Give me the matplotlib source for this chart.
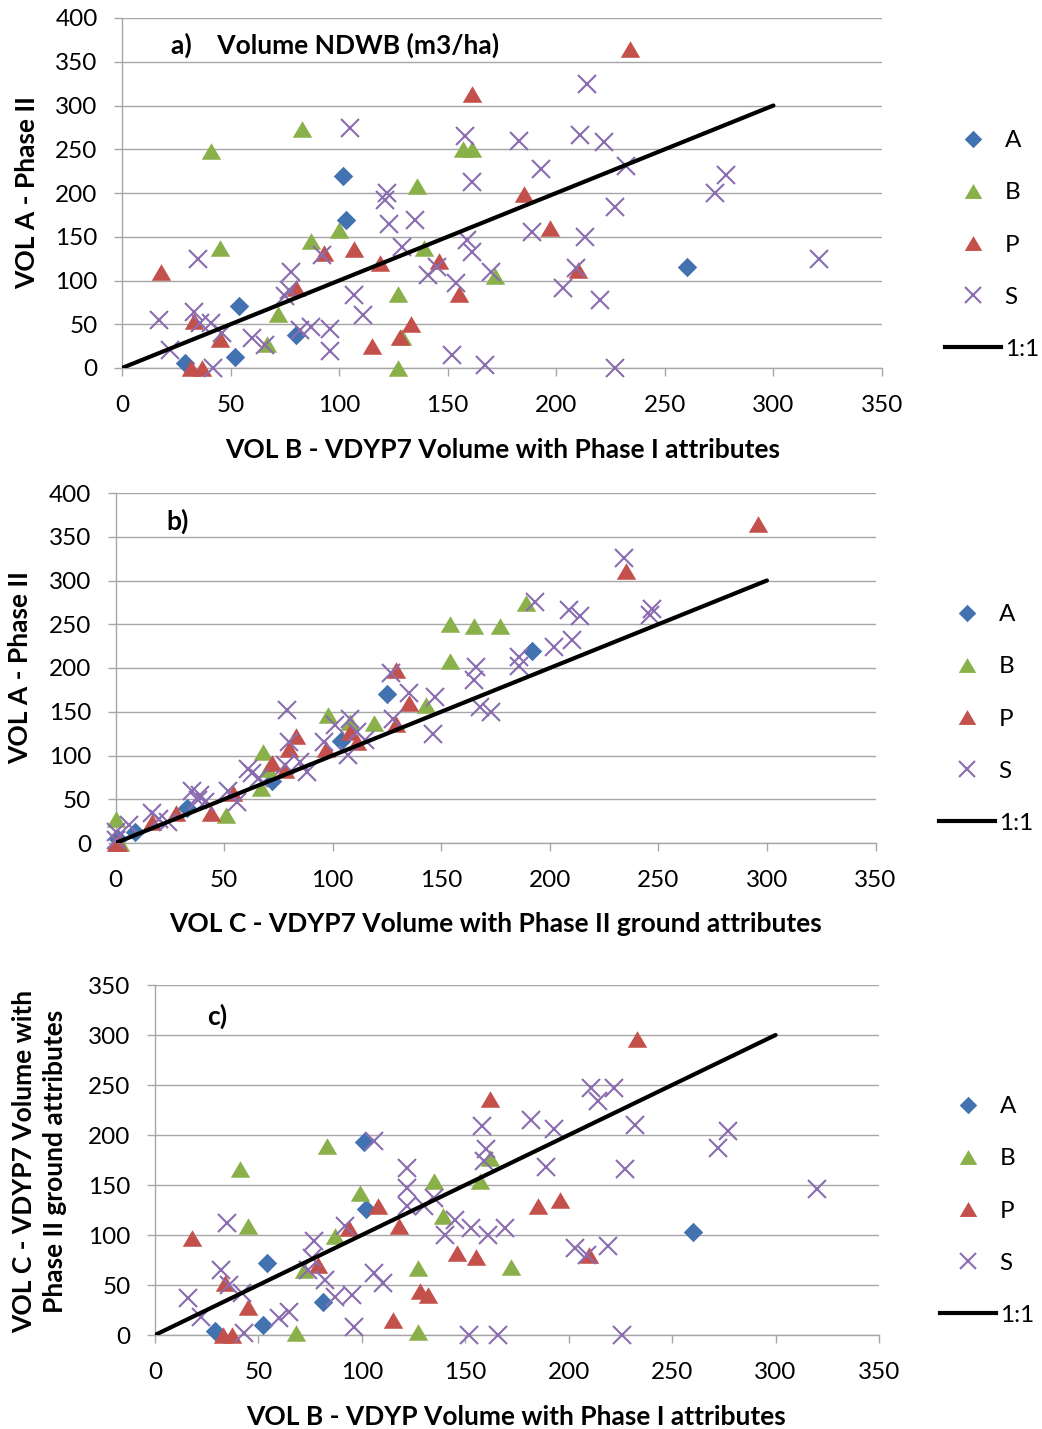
import matplotlib
matplotlib.use("Agg")
import matplotlib.pyplot as plt
from matplotlib.lines import Line2D

plt.rcParams['font.family'] = ['Lato', 'DejaVu Sans']

# ---------------- data ----------------
# Panel a : VOL B (x) vs VOL A (y)
a_A_x = [29, 52, 54, 80, 102, 103, 260]
a_A_y = [6, 13, 71, 38, 219, 169, 116]
a_B_x = [41, 83, 45, 87, 100, 136, 157, 161, 139, 172, 127, 72, 67, 129, 127]
a_B_y = [248, 273, 137, 145, 158, 208, 250, 250, 137, 105, 85, 62, 27, 35, 0]
a_P_x = [18, 33, 45, 32, 37, 80, 93, 107, 119, 146, 155, 133, 128, 115, 161, 234, 185, 197, 210]
a_P_y = [110, 54, 33, 0, 0, 92, 132, 136, 120, 122, 85, 50, 36, 25, 313, 365, 199, 160, 112]
a_S_x = [17, 22, 35, 33, 36, 41, 42, 46, 60, 66, 78, 75, 77, 82, 87, 92, 96, 96, 105, 107,
         111, 122, 121, 123, 135, 129, 141, 145, 154, 152, 167, 158, 161, 159, 161, 170, 214, 183, 211, 222,
         193, 232, 227, 189, 213, 209, 203, 220, 227, 278, 273, 321]
a_S_y = [55, 21, 125, 64, 51, 51, 0, 40, 34, 26, 110, 82, 89, 43, 47, 129, 45, 19, 274, 84,
         61, 200, 192, 165, 169, 138, 106, 116, 97, 15, 3, 265, 213, 146, 133, 110, 325, 259, 266, 258,
         228, 231, 184, 155, 150, 114, 91, 78, 0, 221, 200, 125]

# Panel b : VOL C (x) vs VOL A (y)
b_A_x = [1, 9, 72, 33, 192, 125, 104]
b_A_y = [5, 13, 71, 40, 220, 170, 117]
b_B_x = [154, 165, 177, 154, 189, 143, 119, 98, 108, 68, 67, 51, 0, 70, 2]
b_B_y = [250, 248, 248, 208, 274, 158, 137, 146, 138, 104, 63, 32, 28, 85, 0]
b_P_x = [296, 235, 129, 135, 129, 83, 80, 78, 72, 97, 108, 111, 54, 44, 28, 17, 0, 1]
b_P_y = [365, 311, 198, 160, 136, 122, 108, 84, 92, 108, 127, 116, 57, 34, 34, 24, 0, 0]
b_S_x = [234, 193, 209, 214, 247, 246, 186, 186, 202, 210, 166, 165, 168, 173, 147, 146, 127, 135, 128, 79,
         80, 78, 88, 85, 96, 101, 107, 108, 111, 115, 61, 63, 66, 56, 52, 35, 39, 41, 38, 17,
         24, 20, 6, 0, 0]
b_S_y = [326, 275, 266, 260, 268, 261, 213, 202, 224, 232, 201, 186, 156, 150, 167, 125, 194, 171, 142, 152,
         116, 89, 81, 93, 116, 135, 101, 142, 127, 118, 85, 80, 74, 47, 59, 59, 55, 47, 49, 34,
         24, 28, 21, 13, 3]

# Panel c : VOL B (x) vs VOL C (y)
c_A_x = [101, 102, 54, 81, 52, 29, 260]
c_A_y = [193, 126, 72, 33, 10, 4, 103]
c_B_x = [41, 83, 45, 99, 87, 135, 139, 162, 157, 172, 127, 72, 127, 68]
c_B_y = [166, 189, 109, 142, 99, 154, 119, 177, 154, 68, 67, 65, 3, 2]
c_P_x = [162, 233, 18, 34, 45, 33, 37, 79, 94, 108, 118, 146, 155, 128, 132, 115, 185, 196, 210]
c_P_y = [236, 296, 97, 52, 28, 0, 0, 70, 107, 129, 109, 82, 78, 44, 40, 15, 129, 135, 80]
c_S_x = [16, 22, 35, 32, 36, 42, 43, 60, 65, 77, 76, 74, 82, 87, 95, 96, 92, 106, 106, 110,
         122, 122, 122, 130, 135, 145, 140, 153, 161, 169, 152, 166, 158, 160, 159, 211, 222, 214, 182, 193,
         232, 189, 227, 277, 272, 320, 203, 209, 219, 226]
c_S_y = [37, 18, 112, 65, 50, 42, 2, 17, 23, 94, 77, 65, 55, 38, 40, 8, 109, 194, 62, 52,
         167, 147, 129, 129, 137, 115, 100, 107, 100, 107, 0, 0, 209, 186, 174, 247, 247, 234, 215, 206,
         210, 168, 166, 204, 187, 146, 87, 80, 89, 0]

one_to_one = [0, 300]
series_names = ['A', 'B', 'P', 'S']
x_ticks = [0, 50, 100, 150, 200, 250, 300, 350]

# ---------------- styling ----------------
W, H = 1042, 1429
fig = plt.figure(figsize=(W / 100, H / 100), dpi=100)

COL = {'A': '#4272B0', 'B': '#8AB04A', 'P': '#C4504C', 'S': '#8A6CB0'}
TRI = [(-1, -0.85), (1, -0.85), (0, 0.85)]
DIA = [(0, 1), (1, 0), (0, -1), (-1, 0)]
MK = {'A': dict(marker=DIA, markersize=14, markeredgewidth=0),
      'B': dict(marker=TRI, markersize=14, markeredgewidth=0),
      'P': dict(marker=TRI, markersize=14, markeredgewidth=0),
      'S': dict(marker='x', markersize=13, markeredgewidth=1.5)}
GRID = '#A6A6A6'
TFS = 17.5   # tick / legend font size
LFS = 19     # bold label font size


def px_rect(l, t, r, b):
    return [l / W, 1 - b / H, (r - l) / W, (b - t) / H]


def style_axes(ax, ymax):
    ax.set_xlim(0, 350)
    ax.set_ylim(0, ymax)
    ax.set_xticks(x_ticks)
    ax.set_yticks(list(range(0, ymax + 1, 50)))
    ax.yaxis.grid(True, color=GRID, lw=1.0)
    ax.set_axisbelow(True)
    for s in ['top', 'right']:
        ax.spines[s].set_visible(False)
    for s in ['left', 'bottom']:
        ax.spines[s].set_color(GRID)
        ax.spines[s].set_linewidth(1.0)
    ax.tick_params(axis='both', direction='out', length=5.5, width=1.0, color=GRID,
                   labelsize=TFS, labelcolor='black')
    ax.tick_params(axis='y', pad=12)
    ax.tick_params(axis='x', pad=14)


def draw(ax, data):
    for name, (xs, ys) in zip(series_names, data):
        mk = MK[name]
        if name == 'S':
            ax.plot(xs, ys, linestyle='none', color=COL[name], clip_on=False, zorder=3, **mk)
        else:
            ax.plot(xs, ys, linestyle='none', markerfacecolor=COL[name], color=COL[name],
                    clip_on=False, zorder=3, **mk)
    ax.plot(one_to_one, one_to_one, color='black', lw=3.0, zorder=4, solid_capstyle='round')


def add_legend(x_px, y_px):
    handles = []
    for name in series_names:
        mk = dict(MK[name])
        mk['markersize'] = mk['markersize'] * 0.9
        handles.append(Line2D([], [], linestyle='none', color=COL[name], markerfacecolor=COL[name], **mk))
    handles.append(Line2D([], [], color='black', lw=3.0))
    fig.legend(handles, series_names + ['1:1'], loc='center left',
               bbox_to_anchor=(x_px / W, 1 - y_px / H), frameon=False,
               borderpad=0, borderaxespad=0, handlelength=2.3, handletextpad=0.15,
               labelspacing=1.28, fontsize=TFS)


# Panel a
axa = fig.add_axes(px_rect(122, 18, 882, 368))
style_axes(axa, 400)
draw(axa, [(a_A_x, a_A_y), (a_B_x, a_B_y), (a_P_x, a_P_y), (a_S_x, a_S_y)])
axa.text(22.6, 369, 'a)    Volume NDWB (m3/ha)', fontsize=LFS, fontweight='bold', ha='left', va='center')
fig.text(503 / W, 1 - 450 / H, 'VOL B - VDYP7 Volume with Phase I attributes', fontsize=LFS,
         fontweight='bold', ha='center', va='center')
fig.text(27 / W, 1 - 193 / H, 'VOL A - Phase II', fontsize=LFS, fontweight='bold',
         rotation=90, ha='center', va='center')
add_legend(945, 245)

# Panel b
axb = fig.add_axes(px_rect(115.5, 493, 875.5, 843))
style_axes(axb, 400)
draw(axb, [(b_A_x, b_A_y), (b_B_x, b_B_y), (b_P_x, b_P_y), (b_S_x, b_S_y)])
axb.text(23.6, 368, 'b)', fontsize=LFS, fontweight='bold', ha='left', va='center')
fig.text(496 / W, 1 - 924 / H, 'VOL C - VDYP7 Volume with Phase II ground attributes', fontsize=LFS,
         fontweight='bold', ha='center', va='center')
fig.text(20 / W, 1 - 668 / H, 'VOL A - Phase II', fontsize=LFS, fontweight='bold',
         rotation=90, ha='center', va='center')
add_legend(939, 719)

# Panel c
axc = fig.add_axes(px_rect(155, 985, 879, 1335))
style_axes(axc, 350)
draw(axc, [(c_A_x, c_A_y), (c_B_x, c_B_y), (c_P_x, c_P_y), (c_S_x, c_S_y)])
axc.text(25, 319, 'c)', fontsize=LFS, fontweight='bold', ha='left', va='center')
fig.text(516 / W, 1 - 1417 / H, 'VOL B - VDYP Volume with Phase I attributes', fontsize=LFS,
         fontweight='bold', ha='center', va='center')
fig.text(40 / W, 1 - 1161 / H, 'VOL C - VDYP7 Volume with\nPhase II ground attributes', fontsize=LFS,
         fontweight='bold', rotation=90, ha='center', va='center', linespacing=1.35)
add_legend(940, 1211)

fig.savefig('out.png', dpi=100)
